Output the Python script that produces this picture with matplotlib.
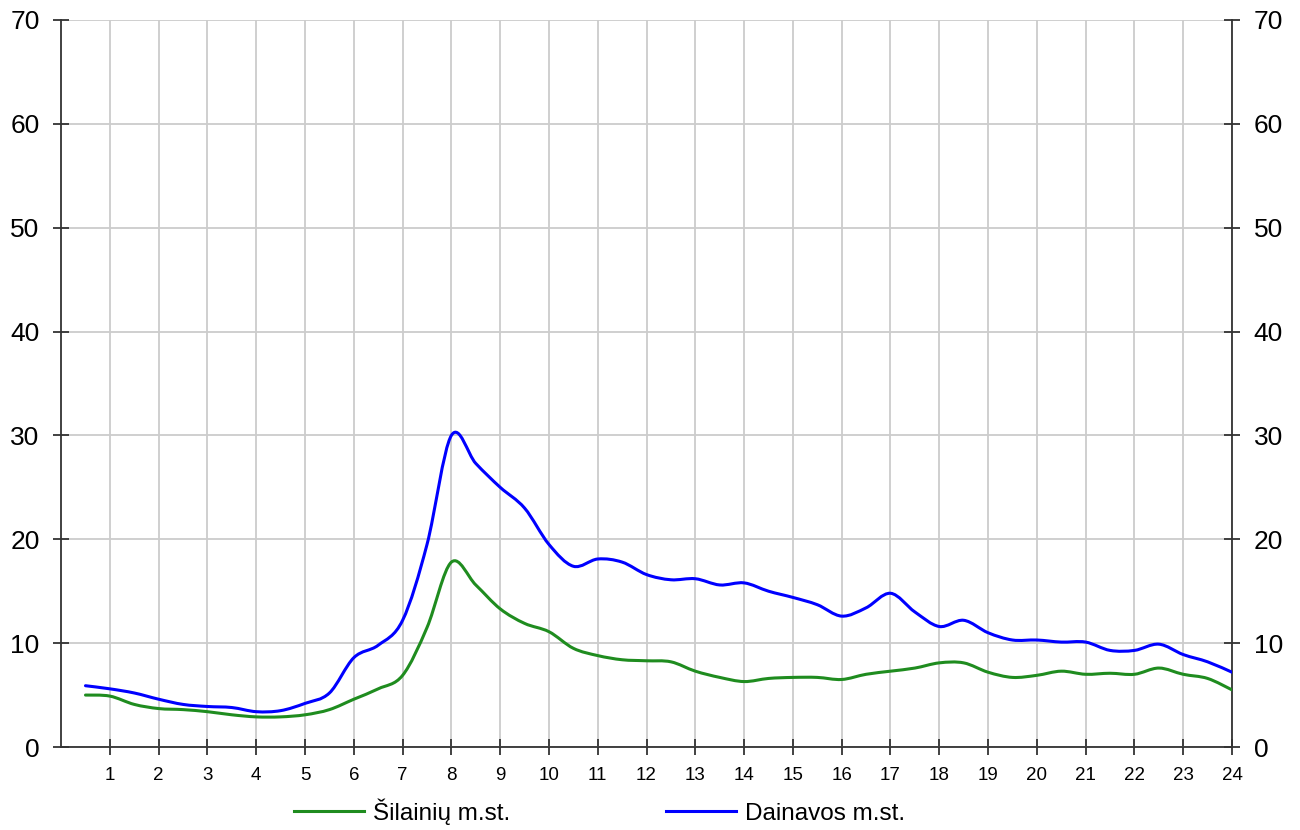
import numpy as np
import matplotlib
matplotlib.use("Agg")
import matplotlib.pyplot as plt
from matplotlib.path import Path
from matplotlib.patches import PathPatch
from matplotlib.lines import Line2D

plt.rcParams['font.family'] = ['Liberation Sans', 'DejaVu Sans']

# half-hour readings, 0.5 .. 24
hours = np.arange(1, 49) / 2.0
silainiu = [5.0, 4.9, 4.1, 3.7, 3.6, 3.4, 3.1, 2.9, 2.9, 3.1, 3.6, 4.6,
            5.6, 6.9, 11.5, 17.8, 15.6, 13.3, 11.9, 11.1, 9.5, 8.8, 8.4, 8.3,
            8.2, 7.3, 6.7, 6.3, 6.6, 6.7, 6.7, 6.5, 7.0, 7.3, 7.6, 8.1,
            8.1, 7.2, 6.7, 6.9, 7.3, 7.0, 7.1, 7.0, 7.6, 7.0, 6.6, 5.5]
dainavos = [5.9, 5.6, 5.2, 4.6, 4.1, 3.9, 3.8, 3.4, 3.5, 4.2, 5.2, 8.6,
            9.8, 12.2, 19.5, 30.0, 27.3, 25.0, 23.0, 19.5, 17.4, 18.1, 17.8, 16.6,
            16.1, 16.2, 15.6, 15.8, 15.0, 14.4, 13.7, 12.6, 13.4, 14.8, 13.0, 11.6,
            12.2, 11.0, 10.3, 10.3, 10.1, 10.1, 9.3, 9.3, 9.9, 8.9, 8.2, 7.2]
series_names = ['Šilainių m.st.', 'Dainavos m.st.']
series_colors = ['#1f8c1f', '#0000ff']
xticks = list(range(1, 25))
yticks = list(range(0, 71, 10))


def smooth_path(x, y):
    # Catmull-Rom style bezier through the points (like a spreadsheet "smoothed line")
    p = np.column_stack([x, y])
    n = len(p)
    verts = [p[0]]
    codes = [Path.MOVETO]
    for i in range(n - 1):
        p0 = p[i - 1] if i > 0 else p[i]
        p3 = p[i + 2] if i + 2 < n else p[i + 1]
        c1 = p[i] + (p[i + 1] - p0) / 6.0
        c2 = p[i + 1] - (p3 - p[i]) / 6.0
        verts += [c1, c2, p[i + 1]]
        codes += [Path.CURVE4] * 3
    return Path(verts, codes)


fig = plt.figure(figsize=(13, 8.3), dpi=100)
ax = fig.add_axes([0.047, 0.1, 0.9007, 0.876])

handles = []
for vals, name, col in zip([silainiu, dainavos], series_names, series_colors):
    patch = PathPatch(smooth_path(hours, vals), facecolor='none', edgecolor=col,
                      lw=2.2, capstyle='round', joinstyle='round', zorder=3)
    ax.add_patch(patch)
    handles.append(Line2D([], [], color=col, lw=2.2))

ax.set_xlim(0, 24)
ax.set_ylim(0, 70)
ax.set_xticks(xticks)
ax.set_yticks(yticks)
ax.grid(True, color='#cccccc', lw=1.3)
ax.set_axisbelow(True)

for s in ['left', 'right', 'bottom']:
    ax.spines[s].set_color('#333333')
    ax.spines[s].set_linewidth(1.3)
ax.spines['top'].set_visible(False)

ax.tick_params(axis='y', which='both', direction='inout', length=11, width=1.3,
               color='#333333', labelsize=19, right=True, labelright=True, pad=10)
ax.tick_params(axis='x', direction='inout', length=11, width=1.3,
               color='#333333', labelsize=13.5, pad=9)

fig.legend(handles, series_names, loc='center', bbox_to_anchor=(0.461, 0.022),
           ncol=2, frameon=False, fontsize=17.5, handlelength=2.9,
           handletextpad=0.35, columnspacing=6.4)

fig.savefig('out.png', dpi=100, facecolor='white')
